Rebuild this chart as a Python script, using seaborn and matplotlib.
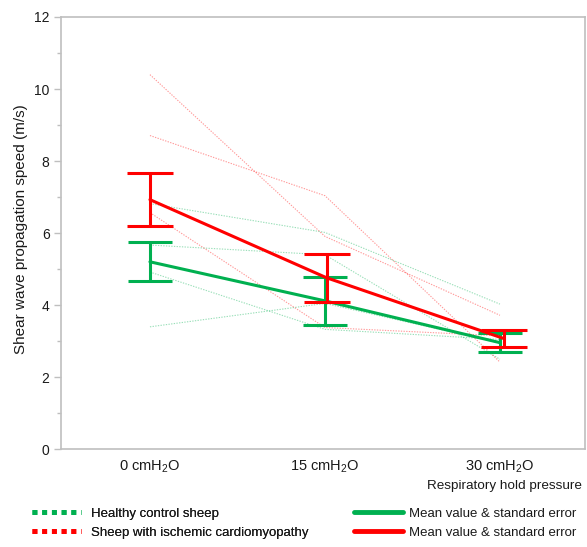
import numpy as np
import pandas as pd
import matplotlib
matplotlib.use("Agg")
import matplotlib.pyplot as plt
from matplotlib.lines import Line2D
from matplotlib.ticker import MultipleLocator
import seaborn as sns

# ---------------- data ----------------
categories = ["0 cmH$\\mathregular{_2}$O", "15 cmH$\\mathregular{_2}$O", "30 cmH$\\mathregular{_2}$O"]

healthy_1 = [6.82, 6.02, 4.03]
healthy_2 = [5.67, 5.40, 2.50]
healthy_3 = [4.92, 3.33, 3.05]
healthy_4 = [3.40, 4.05, 2.95]

ischemic_1 = [10.40, 5.91, 3.72]
ischemic_2 = [8.71, 7.04, 2.42]
ischemic_3 = [6.57, 3.38, 3.15]

healthy_mean = [5.205, 4.12, 2.96]
healthy_se = [0.545, 0.665, 0.26]
ischemic_mean = [6.93, 4.76, 3.07]
ischemic_se = [0.735, 0.66, 0.24]

legend_labels = ["Healthy control sheep", "Sheep with ischemic cardiomyopathy",
                 "Mean value & standard error", "Mean value & standard error"]
y_label = "Shear wave propagation speed (m/s)"
x_label = "Respiratory hold pressure"

# ---------------- style ----------------
sns.set_style("white")
plt.rcParams["font.family"] = ["Liberation Sans", "DejaVu Sans"]
plt.rcParams["mathtext.fontset"] = "custom"
plt.rcParams["mathtext.rm"] = "Liberation Sans"

GREEN = "#00b050"
RED = "#ff0000"
SPINE = "#bfbfbf"
TEXT = "#1a1a1a"
red_dodge = np.array([0.0, 0.01, 0.025])

pos = np.arange(len(categories))

rows = []
for name, vals in [("h1", healthy_1), ("h2", healthy_2), ("h3", healthy_3), ("h4", healthy_4)]:
    for p, v in zip(pos, vals):
        rows.append({"animal": name, "group": "healthy", "pos": p, "speed": v})
for name, vals in [("i1", ischemic_1), ("i2", ischemic_2), ("i3", ischemic_3)]:
    for p, v in zip(pos, vals):
        rows.append({"animal": name, "group": "ischemic", "pos": p, "speed": v})
df = pd.DataFrame(rows)

fig = plt.figure(figsize=(5.87, 5.47), dpi=100)
ax = fig.add_axes([60.7 / 587, 1 - 449.3 / 547, (585 - 60.7) / 587, (449.3 - 17) / 547])

# individual animals
sns.lineplot(data=df[df.group == "healthy"], x="pos", y="speed", units="animal",
             estimator=None, color=GREEN, alpha=0.4, lw=0.8,
             linestyle=(0, (1.2, 1.2)), ax=ax, legend=False)
sns.lineplot(data=df[df.group == "ischemic"], x="pos", y="speed", units="animal",
             estimator=None, color=RED, alpha=0.4, lw=0.8,
             linestyle=(0, (1.2, 1.2)), ax=ax, legend=False)

# means with standard error
sns.lineplot(x=pos, y=healthy_mean, color=GREEN, lw=2.2, ax=ax, legend=False)
ax.errorbar(pos, healthy_mean, yerr=healthy_se, fmt="none", ecolor=GREEN,
            elinewidth=2.2, capsize=15.5, capthick=2.2)
sns.lineplot(x=pos + red_dodge, y=ischemic_mean, color=RED, lw=2.2, ax=ax, legend=False)
ax.errorbar(pos + red_dodge, ischemic_mean, yerr=ischemic_se, fmt="none", ecolor=RED,
            elinewidth=2.2, capsize=16.5, capthick=2.2)

# axes
ax.set_xlim(-0.51, 2.486)
ax.set_ylim(0, 12)
ax.set_xticks(pos)
ax.set_xticklabels(categories, fontsize=10.5, color=TEXT)
ax.yaxis.set_major_locator(MultipleLocator(2))
ax.yaxis.set_minor_locator(MultipleLocator(1))
ax.tick_params(axis="x", length=0, pad=7)
ax.tick_params(axis="y", which="major", length=5, width=1, color=SPINE,
               labelsize=10, labelcolor=TEXT, pad=3, left=True)
ax.tick_params(axis="y", which="minor", length=3, width=1, color=SPINE, left=True)
for s in ax.spines.values():
    s.set_color(SPINE)
    s.set_linewidth(1.2)
    s.set_visible(True)
ax.set_xlabel("")
ax.set_ylabel(y_label, fontsize=11, color=TEXT)
ax.yaxis.set_label_coords(-0.062, 0.51)

fig.text(582 / 587, 1 - 486 / 547, x_label, ha="right", va="center",
         fontsize=9.7, color=TEXT)

# legend
h_dot_g = Line2D([], [], color=GREEN, lw=3.5, linestyle=(0, (1, 1)))
h_dot_r = Line2D([], [], color=RED, lw=3.5, linestyle=(0, (1, 1)))
h_sol_g = Line2D([], [], color=GREEN, lw=3.5)
h_sol_r = Line2D([], [], color=RED, lw=3.5)
leg_font = {"family": ["Liberation Sans", "DejaVu Sans"], "size": 9.5}
common = dict(loc="center left", frameon=False, handlelength=3.7,
              labelspacing=0.5, prop=leg_font, borderpad=0, borderaxespad=0)
leg1 = fig.legend([h_dot_g, h_dot_r], legend_labels[:2], handletextpad=0.8,
                  bbox_to_anchor=(32 / 587, 1 - 523 / 547), **common)
for t in leg1.get_texts():
    t.set_color(TEXT)
leg2 = fig.legend([h_sol_g, h_sol_r], legend_labels[2:], handletextpad=0.5,
                  bbox_to_anchor=(354 / 587, 1 - 523 / 547), **common)
for t in leg2.get_texts():
    t.set_color(TEXT)
fig.add_artist(leg1)

fig.savefig("out.png", dpi=100)
